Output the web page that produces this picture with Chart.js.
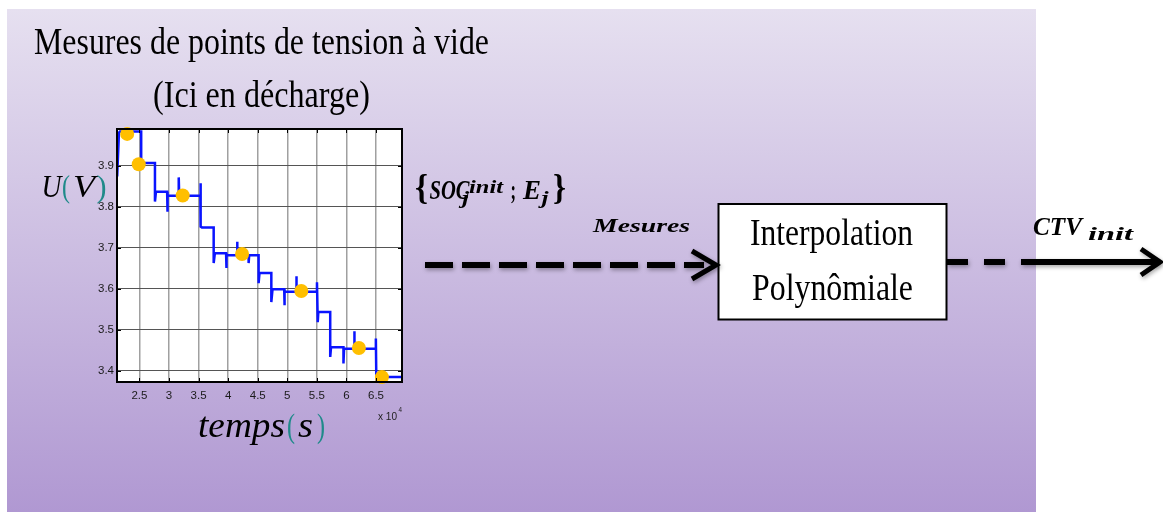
<!DOCTYPE html>
<html lang="fr">
<head>
<meta charset="utf-8">
<title>Mesures de points de tension à vide</title>
<script src="https://cdn.jsdelivr.net/npm/chart.js@4.4.1/dist/chart.umd.min.js"></script>
<style>
  html, body { margin: 0; padding: 0; background: #fff; }
  #graphe { display: block; }
</style>
</head>
<body>
<canvas id="graphe" width="1163" height="512"></canvas>
<script>
// Courbe de tension relevée (temps en 10^4 s, tension en V)
const tempsTrace = [
  2.123, 2.153, 2.170, 2.529, 2.529, 2.762, 2.762, 2.779, 2.968, 2.968,
  2.981, 3.164, 3.164, 3.172, 3.530, 3.530, 3.539, 3.556, 3.755, 3.755,
  3.775, 3.965, 3.965, 3.978, 4.150, 4.150, 4.159, 4.346, 4.346, 4.355,
  4.515, 4.515, 4.530, 4.730, 4.730, 4.750, 4.948, 4.948, 4.960, 5.152,
  5.152, 5.160, 5.502, 5.502, 5.515, 5.525, 5.726, 5.726, 5.740, 5.950,
  5.950, 5.960, 6.132, 6.132, 6.140, 6.498, 6.498, 6.505, 6.520, 6.940
];
const tensionTrace = [
  3.874, 3.981, 3.984, 3.984, 3.907, 3.907, 3.813, 3.837, 3.837, 3.788,
  3.827, 3.827, 3.872, 3.827, 3.827, 3.858, 3.752, 3.750, 3.750, 3.663,
  3.687, 3.687, 3.651, 3.682, 3.682, 3.715, 3.682, 3.682, 3.663, 3.682,
  3.682, 3.614, 3.639, 3.639, 3.568, 3.599, 3.599, 3.560, 3.593, 3.593,
  3.631, 3.593, 3.593, 3.616, 3.519, 3.544, 3.544, 3.434, 3.458, 3.458,
  3.418, 3.454, 3.454, 3.497, 3.454, 3.454, 3.479, 3.390, 3.385, 3.385
];

// Points de tension à vide mesurés
const tempsMesures = [2.292, 2.488, 3.231, 4.235, 5.237, 6.211, 6.600];
const tensionMesures = [3.978, 3.904, 3.828, 3.685, 3.595, 3.456, 3.385];

// Graduations
const graduationsX = [2.5, 3, 3.5, 4, 4.5, 5, 5.5, 6, 6.5];
const graduationsY = [3.4, 3.5, 3.6, 3.7, 3.8, 3.9];

const tealParenthese = "#1f8a8a";

// Texte ajusté à une largeur donnée (l'image d'origine est un peu comprimée)
function texte(ctx, txt, x, yBase, police, largeur, couleur) {
  ctx.save();
  ctx.font = police;
  ctx.fillStyle = couleur || "#000";
  ctx.textAlign = "left";
  ctx.textBaseline = "alphabetic";
  const w = ctx.measureText(txt).width;
  ctx.translate(x, yBase);
  ctx.scale(largeur / w, 1);
  ctx.fillText(txt, 0, 0);
  ctx.restore();
}

// Fond dégradé + zone du graphe en blanc
const fondPlugin = {
  id: "fond",
  beforeDraw(chart) {
    const ctx = chart.ctx;
    const a = chart.chartArea;
    ctx.save();
    const g = ctx.createLinearGradient(0, 9, 0, 512);
    g.addColorStop(0, "rgb(230,224,240)");
    g.addColorStop(1, "rgb(176,152,210)");
    ctx.fillStyle = g;
    ctx.fillRect(7, 9, 1029, 503);
    ctx.fillStyle = "#fff";
    ctx.fillRect(a.left, a.top, a.right - a.left, a.bottom - a.top);
    ctx.restore();
  }
};

// Cadre du graphe, petites graduations, schéma
const schemaPlugin = {
  id: "schema",
  afterDraw(chart) {
    const ctx = chart.ctx;
    const a = chart.chartArea;
    const sx = chart.scales.x;
    const sy = chart.scales.y;

    ctx.save();
    ctx.strokeStyle = "#000";
    ctx.lineWidth = 1;
    graduationsX.forEach(v => {
      const px = Math.round(sx.getPixelForValue(v)) + 0.5;
      ctx.beginPath();
      ctx.moveTo(px, a.bottom); ctx.lineTo(px, a.bottom - 4);
      ctx.moveTo(px, a.top); ctx.lineTo(px, a.top + 4);
      ctx.stroke();
    });
    graduationsY.forEach(v => {
      const py = Math.round(sy.getPixelForValue(v)) + 0.5;
      ctx.beginPath();
      ctx.moveTo(a.left, py); ctx.lineTo(a.left + 4, py);
      ctx.moveTo(a.right, py); ctx.lineTo(a.right - 4, py);
      ctx.stroke();
    });
    ctx.lineWidth = 2;
    ctx.strokeRect(a.left, a.top, a.right - a.left, a.bottom - a.top);

    // x 10^4
    texte(ctx, "x 10", 378, 420, "10px 'Liberation Sans'", 19, "#222");
    texte(ctx, "4", 398.5, 412, "7px 'Liberation Sans'", 3.5, "#222");

    // Titres
    texte(ctx, "Mesures de points de tension à vide", 34, 54, "37px 'Liberation Serif'", 455);
    texte(ctx, "(Ici en décharge)", 153, 107, "37px 'Liberation Serif'", 217);

    // U(V)
    texte(ctx, "U", 41.5, 197, "italic 32px 'Liberation Serif'", 20);
    texte(ctx, "(", 62, 197, "32px 'Liberation Serif'", 8, tealParenthese);
    texte(ctx, "V", 73, 197, "italic 32px 'Liberation Serif'", 22);
    texte(ctx, ")", 96.5, 197, "32px 'Liberation Serif'", 10, tealParenthese);

    // temps(s)
    texte(ctx, "temps", 198, 437, "italic 35px 'Liberation Serif'", 87);
    texte(ctx, "(", 287, 437, "34px 'Liberation Serif'", 8, tealParenthese);
    texte(ctx, "s", 298, 437, "italic 35px 'Liberation Serif'", 15);
    texte(ctx, ")", 317, 437, "34px 'Liberation Serif'", 8, tealParenthese);

    // {SOC_j^init ; E_j}_Mesures
    texte(ctx, "{", 415, 199, "bold 35px 'Liberation Serif'", 13);
    texte(ctx, "SOC", 429.5, 198.5, "bold italic 28px 'Liberation Serif'", 40);
    texte(ctx, "j", 462, 204, "bold italic 18px 'Liberation Serif'", 7);
    texte(ctx, "init", 469, 193, "bold italic 18px 'Liberation Serif'", 34);
    texte(ctx, ";", 510.5, 198.5, "bold 27px 'Liberation Serif'", 5.5);
    texte(ctx, "E", 523, 198.5, "bold italic 28px 'Liberation Serif'", 18);
    texte(ctx, "j", 541.5, 204, "bold italic 18px 'Liberation Serif'", 7);
    texte(ctx, "}", 553, 199, "bold 35px 'Liberation Serif'", 13);
    texte(ctx, "Mesures", 593, 232, "bold italic 19px 'Liberation Serif'", 97);

    // CTV_init
    texte(ctx, "CTV", 1033, 235, "bold italic 25px 'Liberation Serif'", 49);
    texte(ctx, "init", 1088, 239.5, "bold italic 18px 'Liberation Serif'", 45);

    // Bloc d'interpolation
    ctx.fillStyle = "#fff";
    ctx.fillRect(718.5, 204, 228, 115.5);
    ctx.lineWidth = 2;
    ctx.strokeStyle = "#000";
    ctx.strokeRect(718.5, 204, 228, 115.5);
    texte(ctx, "Interpolation", 750, 245, "37px 'Liberation Serif'", 163);
    texte(ctx, "Polynômiale", 752, 300, "37px 'Liberation Serif'", 161);

    // Flèches
    ctx.shadowColor = "rgba(0,0,0,0.35)";
    ctx.shadowBlur = 4;
    ctx.shadowOffsetX = 1;
    ctx.shadowOffsetY = 2;
    ctx.strokeStyle = "#000";
    ctx.lineWidth = 6;
    ctx.lineCap = "butt";

    ctx.setLineDash([28, 9]);
    ctx.beginPath();
    ctx.moveTo(425, 265); ctx.lineTo(704, 265);
    ctx.stroke();

    ctx.setLineDash([21, 16]);
    ctx.beginPath();
    ctx.moveTo(947, 262); ctx.lineTo(1022, 262);
    ctx.stroke();
    ctx.setLineDash([]);
    ctx.beginPath();
    ctx.moveTo(1022, 262); ctx.lineTo(1158, 262);
    ctx.stroke();

    ctx.lineWidth = 5;
    ctx.lineJoin = "miter";
    ctx.beginPath();
    ctx.moveTo(692, 251); ctx.lineTo(716, 265); ctx.lineTo(692, 279);
    ctx.stroke();
    ctx.beginPath();
    ctx.moveTo(1141, 249); ctx.lineTo(1160, 262); ctx.lineTo(1141, 275);
    ctx.stroke();
    ctx.restore();
  }
};

const trace = tempsTrace.map((t, i) => ({ x: t, y: tensionTrace[i] }));
const mesures = tempsMesures.map((t, i) => ({ x: t, y: tensionMesures[i] }));

const policeTicks = { family: "'Liberation Sans', Arial, sans-serif", size: 11.5 };

new Chart(document.getElementById("graphe"), {
  type: "scatter",
  data: {
    datasets: [
      {
        label: "Mesures",
        data: mesures,
        pointRadius: 7,
        pointHoverRadius: 7,
        pointBackgroundColor: "#ffbf00",
        pointBorderWidth: 0,
        clip: false,
        order: 0
      },
      {
        label: "Tension",
        data: trace,
        showLine: true,
        borderColor: "#0a14ff",
        borderWidth: 2.5,
        pointRadius: 0,
        tension: 0,
        order: 1
      }
    ]
  },
  options: {
    responsive: false,
    animation: false,
    events: [],
    layout: { padding: { left: 77, top: 129, right: 761, bottom: 100 } },
    plugins: { legend: { display: false }, tooltip: { enabled: false } },
    scales: {
      x: {
        type: "linear",
        min: 2.12,
        max: 6.94,
        afterBuildTicks: s => { s.ticks = graduationsX.map(v => ({ value: v })); },
        afterFit: s => { s.height = 30; },
        grid: { color: "#a0a0a0", lineWidth: 1.5, drawTicks: false },
        border: { display: false },
        ticks: { padding: 7, color: "#1a1a1a", font: policeTicks, maxRotation: 0, autoSkip: false, callback: v => String(v) }
      },
      y: {
        min: 3.373,
        max: 3.99,
        afterBuildTicks: s => { s.ticks = graduationsY.map(v => ({ value: v })); },
        afterFit: s => { s.width = 40; },
        grid: { color: "#555", lineWidth: 1, drawTicks: false },
        border: { display: false },
        ticks: { padding: 3, color: "#1a1a1a", font: policeTicks, autoSkip: false, callback: v => String(v) }
      }
    }
  },
  plugins: [fondPlugin, schemaPlugin]
});
</script>
</body>
</html>
